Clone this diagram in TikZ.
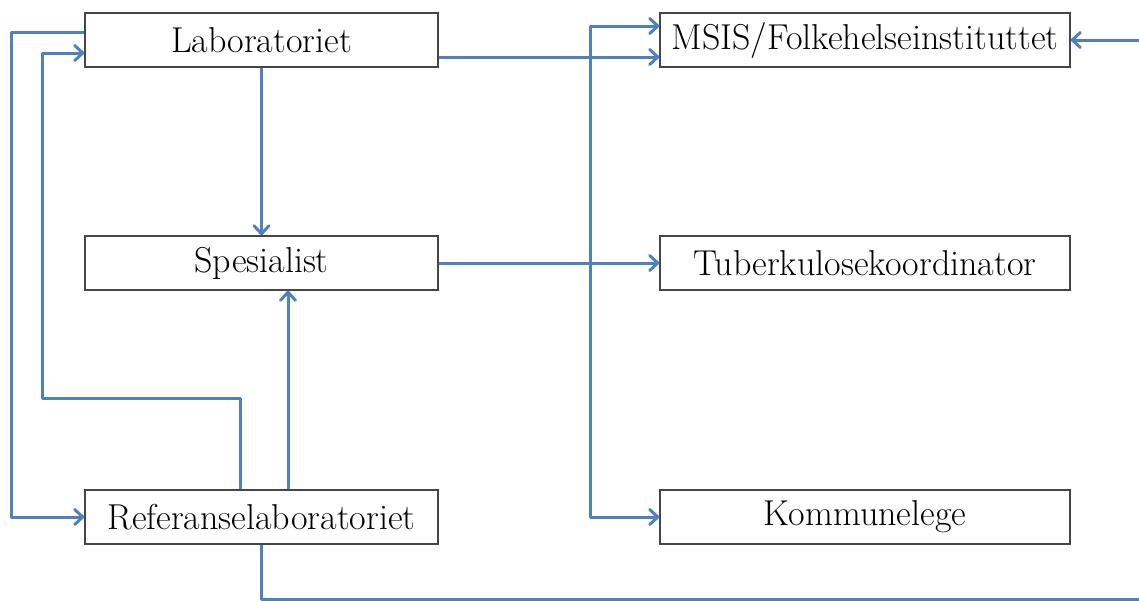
\documentclass[tikz,border=0pt]{standalone}
\usetikzlibrary{arrows.meta}
\definecolor{flowblue}{RGB}{79,129,189}
\definecolor{boxgray}{RGB}{70,70,70}
\tikzset{
  box/.style={draw=boxgray, line width=1.5pt, minimum height=54pt, inner sep=0pt,
    font=\fontsize{36}{40}\selectfont},
  srcbox/.style={box, minimum width=353pt},
  dstbox/.style={box, minimum width=410pt},
  wire/.style={draw=flowblue, line width=3pt, line join=round},
  flow/.style={wire, -{Straight Barb[length=8pt,width=15pt,round]}},
}

\begin{document}
\begin{tikzpicture}[x=1pt,y=-1pt]
\useasboundingbox (0,0) rectangle (1139,600);

\node[srcbox] (lab)  at (261.5,40)  {Laboratoriet};
\node[srcbox] (spes) at (261.5,263) {Spesialist};
\node[srcbox] (ref)  at (261.5,517) {Referanselaboratoriet};

\node[dstbox] (msis) at (865,40)  {MSIS/Folkehelseinstituttet};
\node[dstbox] (tub)  at (865,263) {Tuberkulosekoordinator};
\node[dstbox] (komm) at (865,517) {Kommunelege};

\coordinate (bendL) at (42,398);
\coordinate (junc)  at (590,57);
\coordinate (bendR) at (1141,599.5);

\draw[flow] ([yshift=8pt]lab.west) -- ++(-73,0) |- (ref.west);
\draw[flow] ([xshift=-21.5pt]ref.north) |- (bendL) |- ([yshift=-13pt]lab.west);
\draw[flow] (lab) -- (spes);
\draw[flow] ([xshift=26.5pt]ref.north) -- ([xshift=26.5pt]spes.south);

\draw[flow] ([yshift=-17pt]lab.east) -- ([yshift=-17pt]msis.west);
\draw[flow] (junc) |- ([yshift=14pt]msis.west);
\draw[flow] (junc) |- (komm.west);
\draw[flow] (spes) -- (tub);
\draw[flow] (ref.south) |- (bendR) |- (msis.east);

\end{tikzpicture}
\end{document}
